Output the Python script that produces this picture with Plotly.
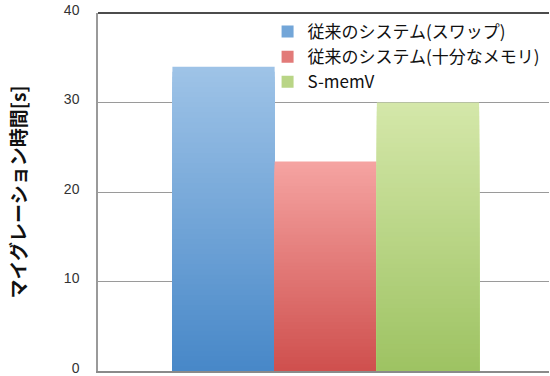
import plotly.graph_objects as go

# Data
categories = ["移行"]
series_names = ["従来のシステム(スワップ)", "従来のシステム(十分なメモリ)", "S-memV"]
series_values = [34.0, 23.4, 30.0]
y_ticks = [0, 10, 20, 30, 40]

# Gradient end colours per series (top, bottom)
top_colors = ["#9EC3E7", "#F5A3A1", "#D4E7A9"]
bottom_colors = ["#4888C8", "#CF504E", "#9EC363"]

N_STEPS = 60
FONT = "Noto Sans CJK JP"


def hex_to_rgb(h):
    h = h.lstrip("#")
    return tuple(int(h[i:i + 2], 16) for i in (0, 2, 4))


def mix(c1, c2, t):
    a, b = hex_to_rgb(c1), hex_to_rgb(c2)
    return "rgb({},{},{})".format(*[round(a[i] + (b[i] - a[i]) * t) for i in range(3)])


fig = go.Figure()

# Each bar is painted as overlapping bars from 0, tallest (lightest) first,
# so it shades from dark at the bottom to light at the top without seams.
for s, (name, value) in enumerate(zip(series_names, series_values)):
    for k in range(N_STEPS - 1, -1, -1):
        t = k / (N_STEPS - 1)
        fig.add_trace(go.Bar(
            x=categories,
            y=[value * (k + 1) / N_STEPS],
            offsetgroup=str(s),
            legendgroup=str(s),
            name=name,
            showlegend=False,
            marker=dict(color=mix(bottom_colors[s], top_colors[s], t), line=dict(width=0)),
            hoverinfo="skip",
        ))
    # legend entry carrying the series colour
    fig.add_trace(go.Bar(
        x=categories,
        y=[None],
        offsetgroup=str(s),
        legendgroup=str(s),
        name=name,
        showlegend=True,
        marker=dict(color=mix(bottom_colors[s], top_colors[s], 0.5), line=dict(width=0)),
    ))

fig.update_layout(
    width=550,
    height=376,
    margin=dict(l=98, r=1, t=13, b=5),
    paper_bgcolor="white",
    plot_bgcolor="white",
    barmode="overlay",
    bargap=0.32,
    bargroupgap=0,
    font=dict(family=FONT, color="#222222"),
    showlegend=True,
    legend=dict(
        x=0.376, y=0.997, xanchor="left", yanchor="top",
        bgcolor="rgba(0,0,0,0)",
        font=dict(size=17, family=FONT, color="#111111"),
        traceorder="normal",
        itemwidth=30,
        tracegroupgap=0,
    ),
    xaxis=dict(
        showticklabels=False,
        showgrid=False,
        showline=True,
        linecolor="#8A8A8A",
        linewidth=1.5,
        range=[-0.505, 0.495],
        zeroline=False,
        ticks="",
    ),
    yaxis=dict(
        range=[0, 40],
        tickvals=y_ticks,
        showgrid=True,
        gridcolor="#9A9A9A",
        gridwidth=1,
        showline=True,
        linecolor="#9A9A9A",
        linewidth=1.5,
        zeroline=False,
        ticks="",
        ticklabelstandoff=14,
        ticklabelshift=-3,
        ticklabeloverflow="allow",
        tickfont=dict(size=14, family="Liberation Sans", color="#333333"),
        title=dict(
            text="<b>マイグレーション時間[s]</b>",
            font=dict(size=19, family=FONT, color="#111111"),
            standoff=32,
        ),
    ),
    shapes=[dict(type="line", xref="paper", yref="paper", x0=0, x1=1, y0=1, y1=1,
                 line=dict(color="#111111", width=1.5))],
)

fig.write_html("out.html")
